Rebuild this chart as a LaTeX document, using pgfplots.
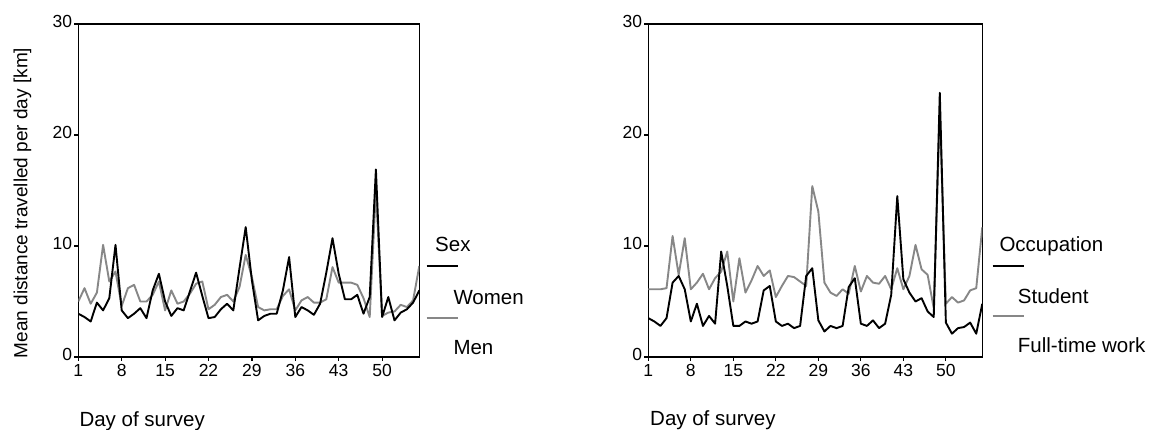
\documentclass[border=0pt]{standalone}
\usepackage{fontspec}
\setmainfont{Liberation Sans}
\usepackage{pgfplots}
\usepackage{pgfplotstable}
\pgfplotsset{compat=1.18}

\definecolor{lgray}{RGB}{135,135,135}

% day, black series, gray series
\pgfplotstableread{
day women men
1 3.9 5.0
2 3.6 6.2
3 3.2 4.8
4 4.9 5.8
5 4.2 10.1
6 5.3 6.8
7 10.1 7.7
8 4.2 4.6
9 3.5 6.2
10 3.9 6.5
11 4.4 5.0
12 3.5 5.0
13 6.0 5.6
14 7.5 6.8
15 5.0 4.2
16 3.7 6.0
17 4.4 4.8
18 4.2 5.0
19 5.9 5.7
20 7.6 6.6
21 5.5 6.8
22 3.5 4.3
23 3.6 4.7
24 4.3 5.4
25 4.8 5.6
26 4.2 5.0
27 8.0 6.3
28 11.7 9.2
29 6.9 7.2
30 3.3 4.5
31 3.7 4.2
32 3.9 4.3
33 3.9 4.3
34 6.0 5.5
35 9.0 6.1
36 3.6 4.2
37 4.5 5.1
38 4.2 5.4
39 3.8 4.9
40 4.8 4.9
41 7.6 5.2
42 10.7 8.1
43 7.5 6.7
44 5.2 6.7
45 5.2 6.7
46 5.6 6.5
47 3.9 5.3
48 5.4 3.6
49 16.9 15.0
50 3.6 3.7
51 5.4 4.0
52 3.3 4.1
53 4.0 4.7
54 4.3 4.5
55 4.9 5.1
56 6.0 8.2
}\sexdata

\pgfplotstableread{
day student fulltime
1 3.5 6.1
2 3.2 6.1
3 2.8 6.1
4 3.5 6.2
5 6.7 10.9
6 7.3 7.4
7 6.1 10.7
8 3.2 6.1
9 4.8 6.7
10 2.8 7.5
11 3.7 6.1
12 3.0 7.1
13 9.5 7.7
14 6.4 9.5
15 2.8 5.0
16 2.8 8.9
17 3.2 5.8
18 3.0 6.9
19 3.2 8.2
20 6.0 7.3
21 6.4 7.8
22 3.2 5.4
23 2.8 6.4
24 3.0 7.3
25 2.6 7.2
26 2.8 6.8
27 7.3 6.4
28 8.0 15.4
29 3.3 13.1
30 2.3 6.7
31 2.8 5.8
32 2.6 5.5
33 2.8 6.1
34 6.3 5.7
35 7.1 8.2
36 3.0 5.9
37 2.8 7.3
38 3.3 6.7
39 2.6 6.6
40 3.0 7.3
41 5.6 6.1
42 14.5 8.0
43 7.0 6.1
44 5.8 7.3
45 5.0 10.1
46 5.3 7.9
47 4.1 7.4
48 3.6 4.4
49 23.8 22.0
50 3.1 4.8
51 2.1 5.4
52 2.6 4.9
53 2.7 5.1
54 3.1 6.0
55 2.1 6.2
56 4.8 11.7
}\occdata

\pgfplotsset{
  panel/.style={
    scale only axis,
    height=333pt,
    xmin=1, xmax=56, ymin=0, ymax=30,
    xtick={1,8,15,22,29,36,43,50},
    ytick={0,10,20,30},
    tick align=outside,
    xtick pos=bottom, ytick pos=left,
    major tick length=4pt,
    axis line style={line width=1.5pt},
    tick style={line width=1.2pt, black},
    every tick label/.append style={font=\fontsize{17.5}{20}\selectfont},
    xticklabel style={inner sep=1pt, yshift=-2pt},
    yticklabel style={inner sep=2pt, yshift=3pt},
    /pgf/number format/assume math mode=true,
    every axis plot/.append style={line width=1.9pt, line join=round, no marks},
  },
}

\begin{document}
\begin{tikzpicture}
\useasboundingbox (0,0) rectangle (1150pt,430pt);

\begin{axis}[panel, width=341pt, at={(78.3pt,73pt)}, anchor=south west]
\addplot[lgray] table[x=day, y=men] {\sexdata};
\addplot[black] table[x=day, y=women] {\sexdata};
\end{axis}

\begin{axis}[panel, width=334pt, at={(648.3pt,73pt)}, anchor=south west]
\addplot[lgray] table[x=day, y=fulltime] {\occdata};
\addplot[black] table[x=day, y=student] {\occdata};
\end{axis}

% axis titles
\node[rotate=90, inner sep=0pt, font=\fontsize{19}{22}\selectfont] at (22.5pt,227pt)
  {Mean distance travelled per day [km]};
\node[anchor=base west, inner sep=0pt, font=\fontsize{20.5}{24}\selectfont] at (79.3pt,3.5pt) {Day of survey};
\node[anchor=base west, inner sep=0pt, font=\fontsize{20.5}{24}\selectfont] at (650pt,4pt) {Day of survey};

% legends
\begin{scope}[every node/.style={anchor=base west, inner sep=0pt, font=\fontsize{20.5}{24}\selectfont}]
\node at (435pt,178.3pt) {Sex};
\draw[black, line width=1.8pt] (426.7pt,164pt) -- (457.7pt,164pt);
\node at (453.3pt,125pt) {Women};
\draw[lgray, line width=1.8pt] (426.7pt,111.7pt) -- (457.7pt,111.7pt);
\node at (453.3pt,75pt) {Men};

\node at (999.3pt,178.3pt) {Occupation};
\draw[black, line width=1.8pt] (992.7pt,164pt) -- (1024.3pt,164pt);
\node at (1017.7pt,126.7pt) {Student};
\draw[lgray, line width=1.8pt] (992.7pt,113.7pt) -- (1024.3pt,113.7pt);
\node at (1017.7pt,77.3pt) {Full-time work};
\end{scope}
\end{tikzpicture}
\end{document}
